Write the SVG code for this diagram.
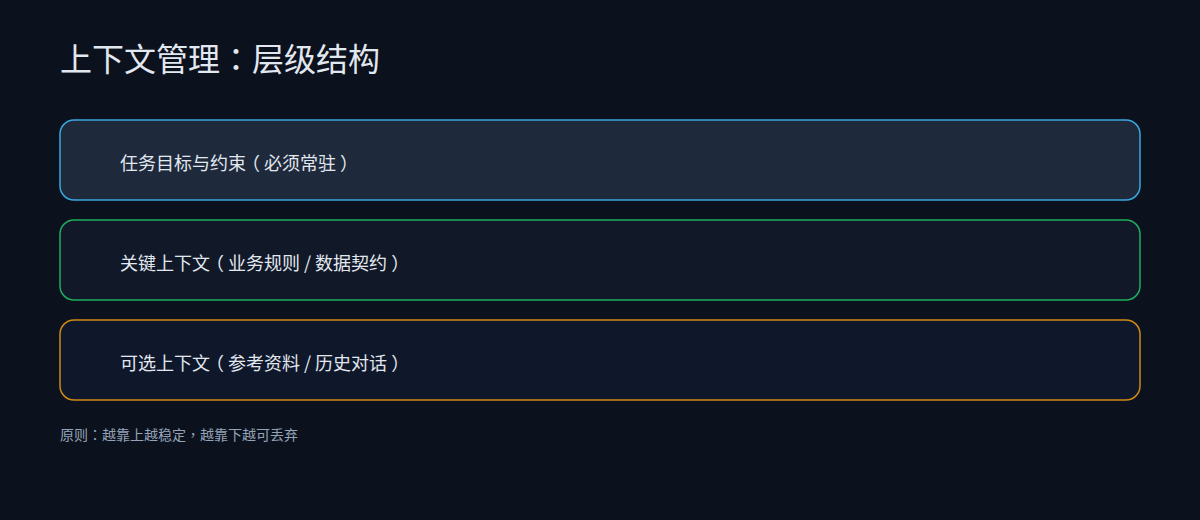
<svg xmlns="http://www.w3.org/2000/svg" width="1200" height="520" viewBox="0 0 1200 520">
<style>
text{font-family:"Noto Sans CJK TC","Noto Sans CJK SC",sans-serif}
.title{font-size:32px;fill:#e2e8f0}
.lbl{font-size:18px;fill:#e2e8f0}
.note{font-size:14px;fill:#94a3b8}
.box{stroke-width:1.5}
</style>
<rect width="1200" height="520" fill="#0b111d"/>
<text class="title" x="60" y="71">上下文管理：层级结构</text>
<g id="node-task">
<rect class="box" x="60" y="120" width="1080" height="80" rx="14" fill="#1e293b" stroke="#38a8dc"/>
<text class="lbl" x="120" y="170">任务目标与约束<tspan dx="-4">（</tspan><tspan dx="4">必须常驻</tspan><tspan dx="4">）</tspan></text>
</g>
<g id="node-key">
<rect class="box" x="60" y="220" width="1080" height="80" rx="14" fill="#111827" stroke="#1fae5e"/>
<text class="lbl" x="120" y="270">关键上下文<tspan dx="-4">（</tspan><tspan dx="4">业务规则 / 数据契约</tspan><tspan dx="4">）</tspan></text>
</g>
<g id="node-optional">
<rect class="box" x="60" y="320" width="1080" height="80" rx="14" fill="#0f172a" stroke="#d08a14"/>
<text class="lbl" x="120" y="370">可选上下文<tspan dx="-4">（</tspan><tspan dx="4">参考资料 / 历史对话</tspan><tspan dx="4">）</tspan></text>
</g>
<g id="connectors"></g>
<text class="note" x="60" y="440">原则：越靠上越稳定，越靠下越可丢弃</text>
</svg>
